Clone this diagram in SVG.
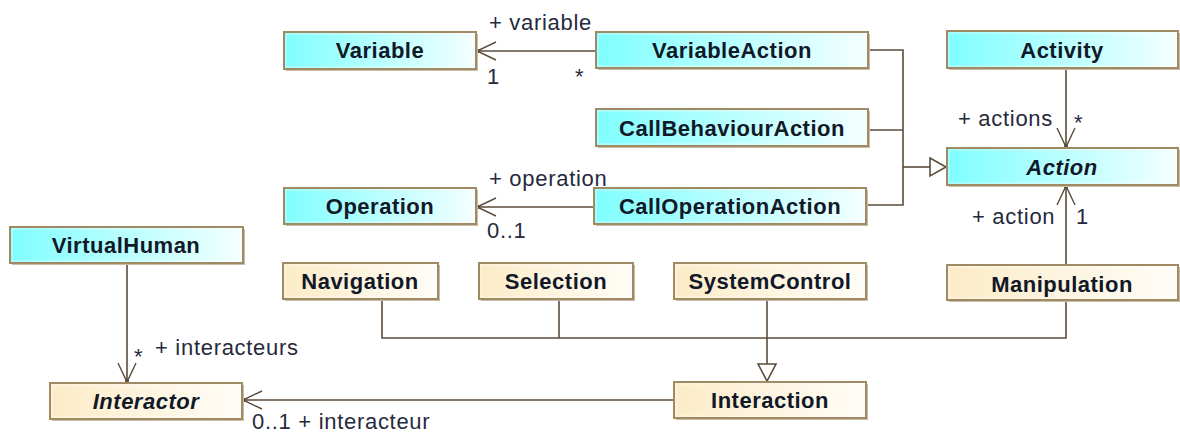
<svg xmlns="http://www.w3.org/2000/svg" width="1180" height="433" viewBox="0 0 1180 433">
<style>
  .box { stroke: #a08a64; stroke-width: 2; }
  .cy { fill: url(#gCyan); }
  .cr { fill: url(#gCream); }
  .sh { fill: #c9bda6; }
  .inner { fill: none; stroke: #fff; stroke-opacity: 0.55; stroke-width: 1; }
  .t { font-family: "Liberation Sans", Arial, sans-serif; font-weight: bold; font-size: 22px; letter-spacing: 0.5px; fill: #111828; text-anchor: middle; }
  .it { font-style: italic; }
  .lbl { font-family: "Liberation Sans", Arial, sans-serif; font-size: 22px; letter-spacing: 0.7px; fill: #262a3c; }
  .ln { fill: none; stroke: #5b4b3b; stroke-width: 1.6; }
  .hd { fill: none; stroke: #5b4b3b; stroke-width: 1.4; }
  .tri { fill: #fff; stroke: #5b4b3b; stroke-width: 1.6; }
</style>
<defs>
  <linearGradient id="gCyan" x1="0" y1="0" x2="1" y2="0">
    <stop offset="0" stop-color="#7ffeff"/>
    <stop offset="1" stop-color="#f4ffff"/>
  </linearGradient>
  <linearGradient id="gCream" x1="0" y1="0" x2="1" y2="0">
    <stop offset="0" stop-color="#fcebc7"/>
    <stop offset="1" stop-color="#fffdf8"/>
  </linearGradient>
</defs>
<rect width="1180" height="433" fill="#ffffff"/>

<g id="connectors">
  <!-- VariableAction -> Variable -->
  <line class="ln" x1="596" y1="51" x2="477" y2="51"/>
  <polyline class="hd" points="496,42 477,51 496,60"/>
  <circle cx="478" cy="51" r="2" fill="#5b4b3b"/>
  <!-- CallOperationAction -> Operation -->
  <line class="ln" x1="594" y1="207" x2="477" y2="207"/>
  <polyline class="hd" points="496,198 477,207 496,216"/>
  <circle cx="478" cy="207" r="2" fill="#5b4b3b"/>
  <!-- generalization to Action -->
  <polyline class="ln" points="868,50 903,50 903,205 866,205"/>
  <line class="ln" x1="868" y1="130" x2="903" y2="130"/>
  <line class="ln" x1="903" y1="167" x2="930" y2="167"/>
  <polygon class="tri" points="930,158 946,167 930,176"/>
  <!-- Activity -> Action -->
  <line class="ln" x1="1066" y1="68" x2="1066" y2="147"/>
  <polyline class="hd" points="1057,128 1066,147 1075,128"/>
  <circle cx="1066" cy="146" r="2" fill="#5b4b3b"/>
  <!-- Manipulation -> Action -->
  <line class="ln" x1="1066" y1="265" x2="1066" y2="186"/>
  <polyline class="hd" points="1057,205 1066,186 1075,205"/>
  <circle cx="1066" cy="187" r="2" fill="#5b4b3b"/>
  <!-- generalization to Interaction -->
  <polyline class="ln" points="382,299 382,338 1066,338 1066,300"/>
  <line class="ln" x1="559" y1="299" x2="559" y2="338"/>
  <line class="ln" x1="767" y1="299" x2="767" y2="364"/>
  <polygon class="tri" points="758,364 767,381 776,364"/>
  <!-- VirtualHuman -> Interactor -->
  <line class="ln" x1="127" y1="263" x2="127" y2="382"/>
  <polyline class="hd" points="118,363 127,382 136,363"/>
  <circle cx="127" cy="381" r="2" fill="#5b4b3b"/>
  <!-- Interaction -> Interactor -->
  <line class="ln" x1="674" y1="400" x2="243" y2="400"/>
  <polyline class="hd" points="262,391 243,400 262,409"/>
  <circle cx="244" cy="400" r="2" fill="#5b4b3b"/>
</g>

<g id="labels">
  <text class="lbl" x="489" y="30">+ variable</text>
  <text class="lbl" x="487" y="84">1</text>
  <text class="lbl" x="575" y="84">*</text>
  <text class="lbl" x="489" y="186">+ operation</text>
  <text class="lbl" x="487" y="238">0..1</text>
  <text class="lbl" x="958" y="126">+ actions</text>
  <text class="lbl" x="1074" y="130">*</text>
  <text class="lbl" x="972" y="224">+ action</text>
  <text class="lbl" x="1076" y="224">1</text>
  <text class="lbl" x="134" y="364">*</text>
  <text class="lbl" x="155" y="355">+ interacteurs</text>
  <text class="lbl" x="252" y="429">0..1 + interacteur</text>
</g>

<g id="Variable">
  <rect class="sh" x="286" y="34" width="192" height="37"/>
  <rect class="box cy" x="284" y="32" width="192" height="37"/>
  <rect class="inner" x="286" y="34" width="188" height="33"/>
  <text class="t" x="380" y="58">Variable</text>
</g>
<g id="VariableAction">
  <rect class="sh" x="598" y="34" width="272" height="36"/>
  <rect class="box cy" x="596" y="32" width="272" height="36"/>
  <rect class="inner" x="598" y="34" width="268" height="32"/>
  <text class="t" x="732" y="58">VariableAction</text>
</g>
<g id="CallBehaviourAction">
  <rect class="sh" x="598" y="111" width="272" height="37"/>
  <rect class="box cy" x="596" y="109" width="272" height="37"/>
  <rect class="inner" x="598" y="111" width="268" height="33"/>
  <text class="t" x="732" y="136">CallBehaviourAction</text>
</g>
<g id="CallOperationAction">
  <rect class="sh" x="596" y="190" width="272" height="36"/>
  <rect class="box cy" x="594" y="188" width="272" height="36"/>
  <rect class="inner" x="596" y="190" width="268" height="32"/>
  <text class="t" x="730" y="214">CallOperationAction</text>
</g>
<g id="Operation">
  <rect class="sh" x="286" y="190" width="192" height="36"/>
  <rect class="box cy" x="284" y="188" width="192" height="36"/>
  <rect class="inner" x="286" y="190" width="188" height="32"/>
  <text class="t" x="380" y="214">Operation</text>
</g>
<g id="Activity">
  <rect class="sh" x="949" y="33" width="231" height="37"/>
  <rect class="box cy" x="947" y="31" width="231" height="37"/>
  <rect class="inner" x="949" y="33" width="227" height="33"/>
  <text class="t" x="1062" y="58">Activity</text>
</g>
<g id="Action">
  <rect class="sh" x="949" y="150" width="231" height="37"/>
  <rect class="box cy" x="947" y="148" width="231" height="37"/>
  <rect class="inner" x="949" y="150" width="227" height="33"/>
  <text class="t it" x="1062" y="175">Action</text>
</g>
<g id="Manipulation">
  <rect class="sh" x="949" y="267" width="231" height="35"/>
  <rect class="box cr" x="947" y="265" width="231" height="35"/>
  <rect class="inner" x="949" y="267" width="227" height="31"/>
  <text class="t" x="1062" y="292">Manipulation</text>
</g>
<g id="VirtualHuman">
  <rect class="sh" x="12" y="229" width="233" height="36"/>
  <rect class="box cy" x="10" y="227" width="233" height="36"/>
  <rect class="inner" x="12" y="229" width="229" height="32"/>
  <text class="t" x="126" y="253">VirtualHuman</text>
</g>
<g id="Navigation">
  <rect class="sh" x="285" y="265" width="155" height="36"/>
  <rect class="box cr" x="283" y="263" width="155" height="36"/>
  <rect class="inner" x="285" y="265" width="151" height="32"/>
  <text class="t" x="360" y="289">Navigation</text>
</g>
<g id="Selection">
  <rect class="sh" x="481" y="265" width="154" height="36"/>
  <rect class="box cr" x="479" y="263" width="154" height="36"/>
  <rect class="inner" x="481" y="265" width="150" height="32"/>
  <text class="t" x="556" y="289">Selection</text>
</g>
<g id="SystemControl">
  <rect class="sh" x="676" y="265" width="192" height="36"/>
  <rect class="box cr" x="674" y="263" width="192" height="36"/>
  <rect class="inner" x="676" y="265" width="188" height="32"/>
  <text class="t" x="770" y="289">SystemControl</text>
</g>
<g id="Interactor">
  <rect class="sh" x="52" y="385" width="192" height="36"/>
  <rect class="box cr" x="50" y="383" width="192" height="36"/>
  <rect class="inner" x="52" y="385" width="188" height="32"/>
  <text class="t it" x="146" y="409">Interactor</text>
</g>
<g id="Interaction">
  <rect class="sh" x="676" y="384" width="192" height="36"/>
  <rect class="box cr" x="674" y="382" width="192" height="36"/>
  <rect class="inner" x="676" y="384" width="188" height="32"/>
  <text class="t" x="770" y="408">Interaction</text>
</g>
</svg>
